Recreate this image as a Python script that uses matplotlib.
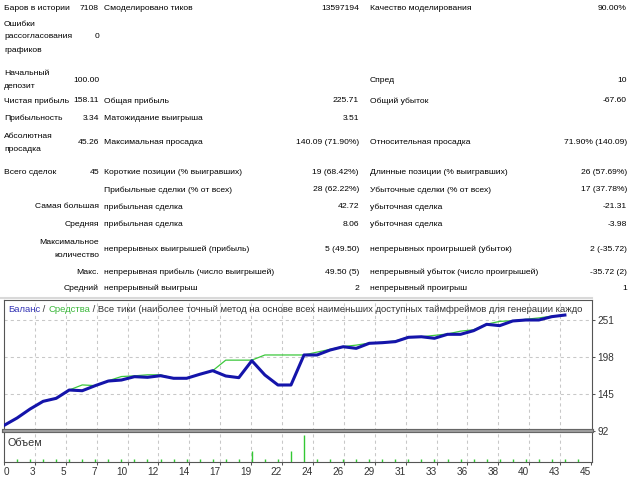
import matplotlib
matplotlib.use('Agg')
import matplotlib.pyplot as plt
from matplotlib import font_manager
from matplotlib.lines import Line2D
from matplotlib.transforms import IdentityTransform

W, H = 640, 480

# ---- report table ----
labels_1 = ["Баров в истории", "Ошибки\nрассогласования\nграфиков", "Начальный\nдепозит",
            "Чистая прибыль", "Прибыльность", "Абсолютная\nпросадка", "Всего сделок", "",
            "Самая большая", "Средняя", "Максимальное\nколичество", "Макс.", "Средний"]
values_1 = ["7108", "0", "100.00", "158.11", "3.34", "45.26", "45", "", "", "", "", "", ""]
labels_2 = ["Смоделировано тиков", "", "", "Общая прибыль", "Матожидание выигрыша",
            "Максимальная просадка", "Короткие позиции (% выигравших)",
            "Прибыльные сделки (% от всех)", "прибыльная сделка", "прибыльная сделка",
            "непрерывных выигрышей (прибыль)", "непрерывная прибыль (число выигрышей)",
            "непрерывный выигрыш"]
values_2 = ["13597194", "", "", "225.71", "3.51", "140.09 (71.90%)", "19 (68.42%)",
            "28 (62.22%)", "42.72", "8.06", "5 (49.50)", "49.50 (5)", "2"]
labels_3 = ["Качество моделирования", "", "Спред", "Общий убыток", "", "Относительная просадка",
            "Длинные позиции (% выигравших)", "Убыточные сделки (% от всех)",
            "убыточная сделка", "убыточная сделка", "непрерывных проигрышей (убыток)",
            "непрерывный убыток (число проигрышей)", "непрерывный проигрыш"]
values_3 = ["90.00%", "", "10", "-67.60", "", "71.90% (140.09)", "26 (57.69%)", "17 (37.78%)",
            "-21.31", "-3.98", "2 (-35.72)", "-35.72 (2)", "1"]

# ---- balance / equity per trade ----
balance = [100, 110.6, 123.5, 134.5, 138.8, 150.7, 149.7, 157, 163.6, 165, 169.8, 168.9,
           171.2, 167.5, 167.5, 173.2, 178.4, 170.8, 168.4, 192.7, 172.2, 157.9, 157.9,
           200.9, 200.9, 208, 212.7, 210.4, 217.6, 218.5, 220, 226.2, 227, 224.8, 230.5,
           230.5, 235.7, 244.8, 242.9, 249.6, 251, 251, 255.8, 258.1]
equity = [100, 110.6, 123.5, 134.5, 138.8, 150.7, 158, 157, 164, 170, 171, 172.5,
          172.5, 167.5, 167.5, 173.2, 178.4, 193.5, 193.5, 193.5, 200.9, 200.9, 200.9,
          200.9, 205, 209, 213, 215, 218, 219, 221, 226.5, 227, 229, 231,
          235, 237, 245, 249, 250, 252, 254, 256.5, 258.1]
volume = [0.01] * 45
volume[19] = 0.04
volume[22] = 0.04
volume[23] = 0.10

x_labels = ["0", "3", "5", "7", "10", "12", "14", "17", "19", "22", "24", "26", "29",
            "31", "33", "36", "38", "40", "43", "45"]
y_ticks = [92, 145, 198, 251]

# title as shown (the report cuts it at the chart edge)
title_parts = ["Баланс", " / ", "Средства",
               " / Все тики (наиболее точный метод на основе всех наименьших доступных "
               "таймфреймов для генерации каждо"]
title_colors = ['#3535b5', '#333333', '#3cb83c', '#333333']

# fonts
names = {f.name for f in font_manager.fontManager.ttflist}
if 'Liberation Sans Narrow' in names:
    chart_font = ['Liberation Sans Narrow', 'DejaVu Sans']
    chart_fs = 7.6
else:
    chart_font = ['Liberation Sans', 'DejaVu Sans']
    chart_fs = 6.6
table_font = ['Liberation Sans', 'DejaVu Sans']
table_fs = 6.1

fig = plt.figure(figsize=(6.4, 4.8), dpi=100)
fig.patch.set_facecolor('white')
renderer = fig.canvas.get_renderer()


def put(x, y, s, ha='left'):
    # y in pixels from top, multi-line text split into single lines
    lines = s.split("\n")
    pitch = 13.0
    y0 = y - pitch * (len(lines) - 1) / 2
    for k, ln in enumerate(lines):
        fig.text(x / W, 1 - (y0 + k * pitch) / H, ln, ha=ha, va='center',
                 family=table_font, fontsize=table_fs, color='black')


row_y = [8, 37, 80, 101, 118, 143, 173, 190, 207, 224, 249, 272, 288]
for r, y in enumerate(row_y):
    if r >= 8:
        put(99, y, labels_1[r], 'right')
    else:
        put(4, y, labels_1[r])
    put(99, y, values_1[r], 'right')
    put(104, y, labels_2[r])
    put(359, y, values_2[r], 'right')
    put(370, y, labels_3[r])
    put(627, y, values_3[r], 'right')

fig.add_artist(Line2D([0, 592 / W], [1 - 297.5 / H] * 2, transform=fig.transFigure,
                      color='#d9d9d9', lw=1.5))

# ---- chart ----
ppu = (591 - 4) / 45.0
left, right = 3.5, 592
xlim = ((left - 4) / ppu, (right - 4) / ppu)
ax = fig.add_axes([left / W, 1 - 431 / H, (right - left) / W, (431 - 300) / H])
axv = fig.add_axes([left / W, 1 - 462 / H, (right - left) / W, (462 - 431) / H])

grid_x = [45 * k / 19 for k in range(20)]
grid_kw = dict(color='#c8c8c8', lw=0.75, linestyle=(0, (3, 3)), zorder=1)

ax.set_xlim(xlim)
ax.set_ylim(92, 92 + 131 * 53 / 37)
for g in grid_x[1:-1]:
    ax.axvline(g, **grid_kw)
    axv.axvline(g, **grid_kw)
for v in y_ticks[1:]:
    ax.axhline(v, **grid_kw)

idx = list(range(len(balance)))
ax.plot(idx, equity, color='#3cc83c', lw=0.9, zorder=3)
ax.plot(idx, balance, color='#1414aa', lw=2.2, zorder=4, solid_joinstyle='round')

ax.yaxis.tick_right()
ax.set_yticks(y_ticks)
ax.set_yticklabels([str(v) for v in y_ticks], family=chart_font, fontsize=chart_fs + 0.6,
                   color='#333333')
ax.tick_params(axis='y', length=2.5, width=0.75, color='#555555', pad=1.5)
ax.set_xticks([])
for s in ['left', 'top', 'right']:
    ax.spines[s].set_color('#555555')
    ax.spines[s].set_linewidth(0.8)
ax.spines['bottom'].set_visible(False)

# title in coloured pieces, sized so that it reaches the right edge of the chart
probe = fig.text(0, 0, "".join(title_parts), family=chart_font, fontsize=10)
title_fs = 10 * (589 - 8) / probe.get_window_extent(renderer).width
probe.remove()
tx = 8
for txt, col in zip(title_parts, title_colors):
    t = ax.text(tx, H - 310, txt, transform=IdentityTransform(), va='center', ha='left',
                family=chart_font, fontsize=title_fs, color=col, zorder=5)
    tx = t.get_window_extent(renderer).x1

# volume panel
vol_x = list(range(1, 45))
axv.set_xlim(xlim)
axv.set_ylim(0, 0.115)
axv.vlines(vol_x, 0, volume[1:], color='#33c833', lw=1.0, zorder=3)
axv.set_yticks([])
axv.set_xticks(grid_x)
axv.set_xticklabels(x_labels, family=chart_font, fontsize=chart_fs + 0.6, color='#333333')
for k, lab in enumerate(axv.get_xticklabels()):
    lab.set_horizontalalignment('left' if k == 0 else 'right')
axv.tick_params(axis='x', length=2.5, width=0.75, color='#555555', pad=1.0)
for s in ['left', 'bottom', 'right']:
    axv.spines[s].set_color('#555555')
    axv.spines[s].set_linewidth(0.8)
axv.spines['top'].set_visible(False)
axv.text(8, H - 443, "Объем", transform=IdentityTransform(), va='center', ha='left',
         family=chart_font, fontsize=chart_fs + 1.2, color='#333333')

# separator between panels
fig.add_artist(Line2D([left / W, right / W], [1 - 431 / H] * 2, transform=fig.transFigure,
                      color='#666666', lw=3.0))
fig.add_artist(Line2D([left / W, right / W], [1 - 431 / H] * 2, transform=fig.transFigure,
                      color='#a8a8a8', lw=1.2))

fig.savefig('out.png', dpi=100, facecolor='white')
